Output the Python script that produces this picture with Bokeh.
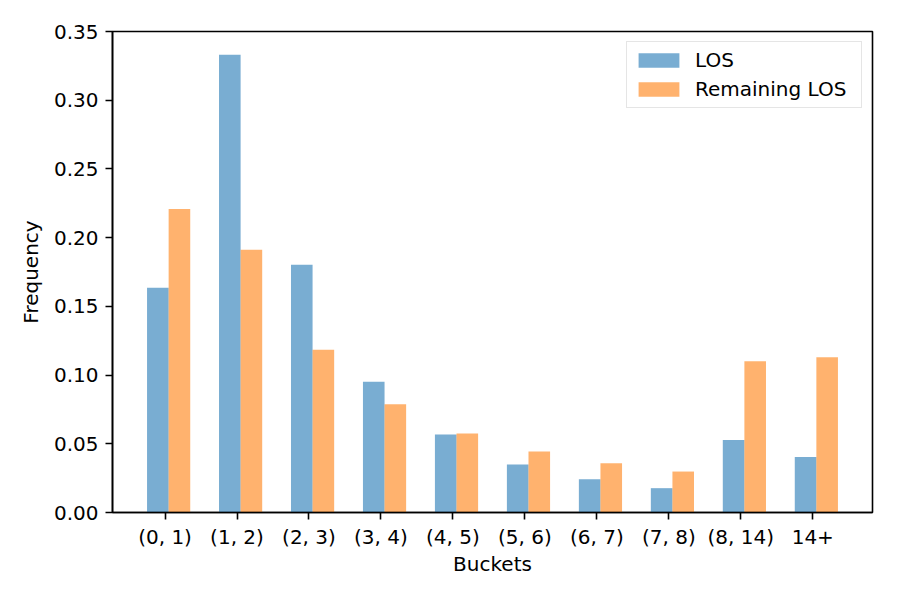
from bokeh.plotting import figure
from bokeh.models import ColumnDataSource, FixedTicker, NumeralTickFormatter, Range1d, Legend, LegendItem
from bokeh.embed import file_html
from bokeh.resources import INLINE

buckets = ["(0, 1)", "(1, 2)", "(2, 3)", "(3, 4)", "(4, 5)", "(5, 6)", "(6, 7)", "(7, 8)", "(8, 14)", "14+"]
los = [0.1635, 0.3331, 0.1802, 0.0952, 0.0568, 0.0349, 0.0242, 0.0177, 0.0528, 0.0404]
remaining_los = [0.2209, 0.1911, 0.1185, 0.0787, 0.0574, 0.0443, 0.0358, 0.0298, 0.1100, 0.1129]
y_ticks = [0.0, 0.05, 0.10, 0.15, 0.20, 0.25, 0.30, 0.35]

bar_w = 0.3
idx = list(range(len(buckets)))
src = ColumnDataSource(dict(
    x_los=[i - 0.1 for i in idx],
    x_rem=[i + 0.2 for i in idx],
    los=los,
    rem=remaining_los,
))

FONT = "DejaVu Sans"
p = figure(width=900, height=600, output_backend="svg", toolbar_location=None,
           x_range=Range1d(-0.73, 9.83), y_range=Range1d(0, 0.35),
           min_border_left=112, min_border_right=28, min_border_top=31, min_border_bottom=88)
p.background_fill_color = "white"
p.border_fill_color = "white"
p.xgrid.visible = False
p.ygrid.visible = False
p.outline_line_color = "black"
p.outline_line_width = 1.6

r1 = p.vbar(x="x_los", top="los", width=bar_w, source=src,
            fill_color="#1f77b4", fill_alpha=0.6, line_color=None)
r2 = p.vbar(x="x_rem", top="rem", width=bar_w, source=src,
            fill_color="#ff7f0e", fill_alpha=0.6, line_color=None)

for ax in (p.xaxis[0], p.yaxis[0]):
    ax.axis_line_color = "black"
    ax.axis_line_width = 1.6
    ax.major_tick_line_color = "black"
    ax.major_tick_line_width = 1.6
    ax.major_tick_out = 7
    ax.major_tick_in = 0
    ax.minor_tick_line_color = None
    ax.major_label_text_font = FONT
    ax.major_label_text_font_size = "20px"
    ax.major_label_text_color = "black"
    ax.major_label_standoff = 7
    ax.axis_label_text_font = FONT
    ax.axis_label_text_font_size = "20px"
    ax.axis_label_text_font_style = "normal"
    ax.axis_label_text_color = "black"
    ax.axis_label_standoff = 8

p.xaxis.major_label_standoff = 5
p.xaxis.axis_label_standoff = 0
p.xaxis.ticker = FixedTicker(ticks=idx)
p.xaxis.major_label_overrides = {i: b for i, b in zip(idx, buckets)}
p.xaxis.axis_label = "Buckets"
p.yaxis.ticker = FixedTicker(ticks=y_ticks)
p.yaxis.formatter = NumeralTickFormatter(format="0.00")
p.yaxis.axis_label = "Frequency"

legend = Legend(items=[LegendItem(label="LOS", renderers=[r1]),
                       LegendItem(label="Remaining LOS", renderers=[r2])],
                location="top_right")
legend.label_text_font = FONT
legend.label_text_font_size = "20px"
legend.label_text_color = "black"
legend.glyph_width = 51
legend.glyph_height = 18
legend.label_standoff = 11
legend.label_width = 160
legend.padding = 6
legend.spacing = 5
legend.margin = 10
legend.border_line_color = "#cccccc"
legend.border_line_width = 1.2
legend.background_fill_color = "white"
legend.background_fill_alpha = 0.8
p.add_layout(legend)

open("out.html", "w").write(file_html(p, INLINE))
